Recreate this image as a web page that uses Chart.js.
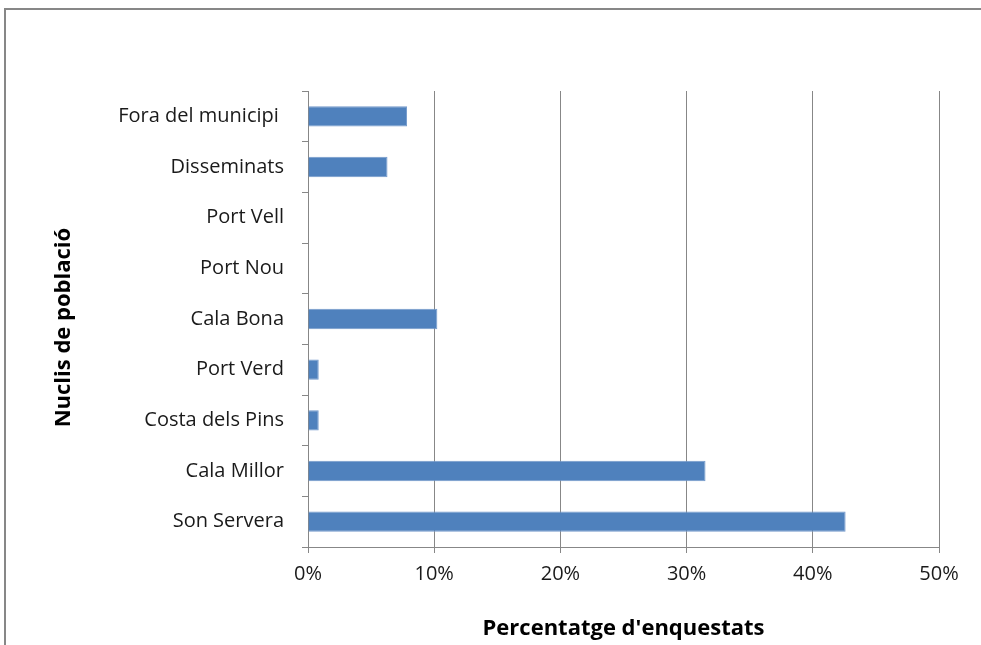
<!DOCTYPE html>
<html>
<head>
<meta charset="utf-8">
<script src="https://cdn.jsdelivr.net/npm/chart.js@4.4.1/dist/chart.umd.min.js"></script>
<style>
  html, body { margin: 0; background: #fff; overflow: hidden; width: 981px; height: 645px; }
  #marc {
    position: absolute; left: 4px; top: 8px; width: 1000px; height: 700px;
    border-top: 2px solid #878787; border-left: 2px solid #878787;
  }
  #myChart { position: absolute; left: 0; top: 0; }
</style>
</head>
<body>
<div id="marc"></div>
<canvas id="myChart" width="981" height="645"></canvas>
<script>
// dades llegides del grafic (de dalt a baix)
const nuclis = [
  "Fora del municipi ",
  "Disseminats",
  "Port Vell",
  "Port Nou",
  "Cala Bona",
  "Port Verd",
  "Costa dels Pins",
  "Cala Millor",
  "Son Servera",
];
const percentatges = [7.85, 6.3, 0, 0, 10.25, 0.85, 0.85, 31.5, 42.6];
const marquesX = [0, 10, 20, 30, 40, 50];

const GRIS = "#878787";
const FONT = "'Open Sans', Lato, sans-serif";

var data = {
  labels: nuclis,
  datasets: [
    {
      label: "Percentatge d'enquestats",
      data: percentatges,
      backgroundColor: "#4f81bd",
      borderColor: "#7399cb",
      borderWidth: 1,
      barPercentage: 0.4,
      categoryPercentage: 1,
    },
  ],
};

// OPCIONS
var options = {
  indexAxis: "y",
  responsive: false,
  animation: false,
  layout: { padding: { top: 91, right: 42, left: 0, bottom: 0 } },
  plugins: { legend: { display: false }, tooltip: { enabled: false } },
  scales: {
    x: {
      min: marquesX[0],
      max: marquesX[marquesX.length - 1],
      afterBuildTicks: function (scale) {
        scale.ticks = marquesX.map(function (v) { return { value: v }; });
      },
      afterFit: function (scale) { scale.height = 98; },
      grid: { color: GRIS, lineWidth: 1, tickLength: 6 },
      border: { color: GRIS, width: 1 },
      ticks: {
        color: "#1a1a1a",
        font: { family: FONT, size: 20 },
        padding: 9,
        callback: function (v) { return v + "%"; },
      },
      title: {
        display: true,
        text: "Percentatge d'enquestats",
        color: "#000",
        font: { family: FONT, size: 22, weight: "bold" },
        padding: { top: 0, bottom: 3 },
      },
    },
    y: {
      afterFit: function (scale) { scale.width = 308; },
      grid: { drawOnChartArea: false, color: GRIS, tickLength: 6, offset: true },
      border: { color: GRIS, width: 1 },
      ticks: {
        color: "#1a1a1a",
        font: { family: FONT, size: 20 },
        padding: 18,
      },
      title: {
        display: true,
        text: "Nuclis de població\u00a0\u00a0\u00a0",
        color: "#000",
        font: { family: FONT, size: 22, weight: "bold" },
        padding: { top: 51, bottom: 0 },
      },
    },
  },
};

// CREAR GRAFIC
var ctx = document.getElementById("myChart").getContext("2d");
var myChart = new Chart(ctx, {
  type: "bar",
  data: data,
  options: options,
});
</script>
</body>
</html>
